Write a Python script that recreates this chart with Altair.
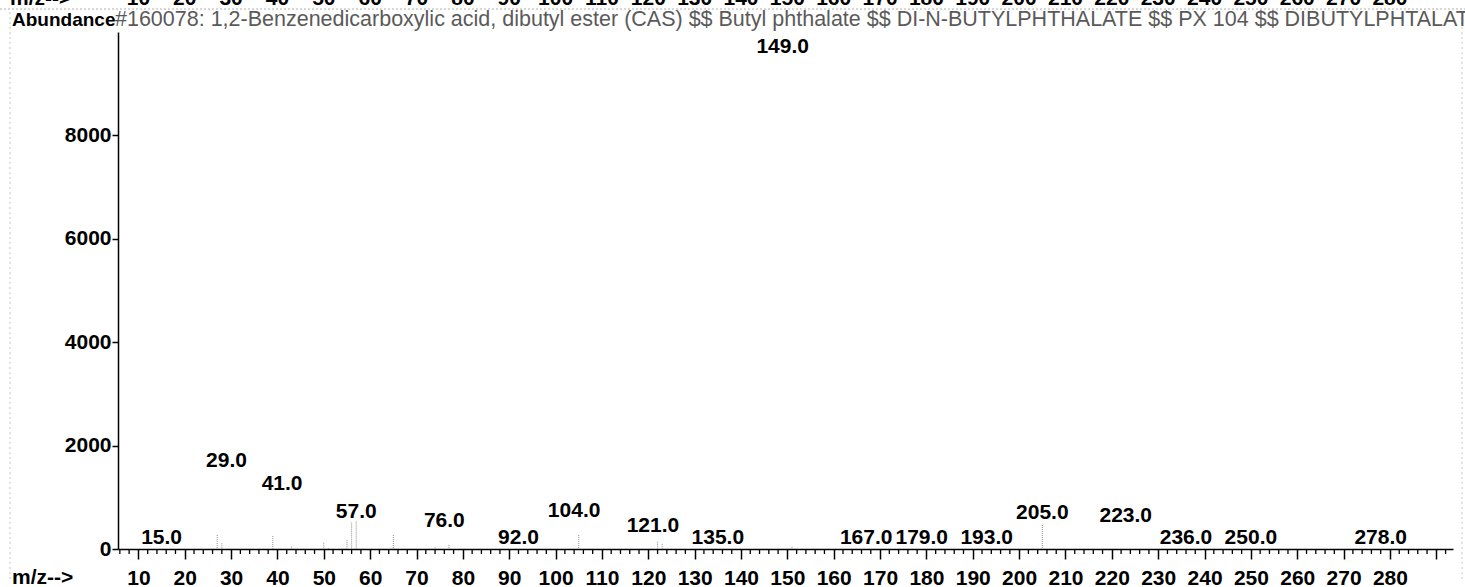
import altair as alt
import pandas as pd

# ---- data ----
# labelled peaks: m/z, abundance (position of the label) and label text
label_mz = [15, 29, 41, 57, 76, 92, 104, 121, 135, 149, 167, 179, 193, 205, 223, 236, 250, 278]
label_abund = [20, 1507, 1063, 522, 348, 20, 541, 251, 20, 9507, 20, 10, 10, 502, 444, 10, 10, 20]
label_text = ["15.0", "29.0", "41.0", "57.0", "76.0", "92.0", "104.0", "121.0", "135.0",
              "149.0", "167.0", "179.0", "193.0", "205.0", "223.0", "236.0", "250.0", "278.0"]

# faint peak sticks that are visible in the scan
stick_mz = [27, 28, 39, 43, 50, 51, 55, 56, 57, 65, 74, 77, 105, 122, 123, 151, 205]
stick_abund = [270, 110, 250, 45, 120, 20, 170, 510, 530, 270, 30, 80, 270, 140, 100, 45, 464]

# axis ticks
x_major = [10, 20, 30, 40, 50, 60, 70, 80, 90, 100, 110, 120, 130, 140, 150, 160, 170,
           180, 190, 200, 210, 220, 230, 240, 250, 260, 270, 280, 290]
x_labels = [10, 20, 30, 40, 50, 60, 70, 80, 90, 100, 110, 120, 130, 140, 150, 160, 170,
            180, 190, 200, 210, 220, 230, 240, 250, 260, 270, 280]
x_minor = [v for v in range(6, 293, 2) if v % 10 != 0]
y_ticks = [0, 2000, 4000, 6000, 8000]

title_bold = "Abundance"
title_rest = ("#160078: 1,2-Benzenedicarboxylic acid, dibutyl ester (CAS) $$ Butyl phthalate "
              "$$ DI-N-BUTYLPHTHALATE $$ PX 104 $$ DIBUTYLPHTALATE")
axis_name = "m/z-->"

FONT = "Liberation Sans"
FS = 21
W, H = 1335, 517

labels_df = pd.DataFrame({"mz": label_mz, "abund": label_abund, "label": label_text})
sticks_df = pd.DataFrame({"mz": stick_mz, "abund": stick_abund, "base": [0] * len(stick_mz)})
minor_df = pd.DataFrame({"mz": x_minor})
top_df = pd.DataFrame({"mz": x_labels, "label": [str(v) for v in x_labels]})

xscale = alt.Scale(domain=[5.6, 293.6], nice=False, zero=False)
yscale = alt.Scale(domain=[0, 10000], nice=False)

xaxis = alt.Axis(values=x_major, title=None, grid=False, tickSize=10, tickWidth=1.5,
                 tickColor="black", domainColor="black", domainWidth=1.5,
                 labelFont=FONT, labelFontSize=FS, labelFontWeight="bold", labelColor="black",
                 labelBaseline="alphabetic", labelPadding=25, labelFlush=False,
                 labelOverlap=False,
                 labelExpr="datum.value > 285 ? '' : datum.label")
yaxis = alt.Axis(values=y_ticks, title=None, grid=False, tickSize=6, tickWidth=1.5,
                 tickColor="black", domainColor="black", domainWidth=1.5,
                 labelFont=FONT, labelFontSize=FS, labelFontWeight="bold", labelColor="black",
                 labelPadding=1, format="d", labelFlush=False)

sticks = alt.Chart(sticks_df).mark_rule(color="#8c8c8c", strokeWidth=1, strokeDash=[1, 1]).encode(
    x=alt.X("mz:Q", scale=xscale, axis=xaxis),
    y=alt.Y("abund:Q", scale=yscale, axis=yaxis),
    y2="base:Q",
)

labels = alt.Chart(labels_df).mark_text(font=FONT, fontSize=FS, fontWeight="bold", color="black",
                                         baseline="alphabetic", dy=-4).encode(
    x=alt.X("mz:Q", scale=xscale),
    y=alt.Y("abund:Q", scale=yscale),
    text="label:N",
)

minor = alt.Chart(minor_df).mark_rule(color="black", strokeWidth=1.3).encode(
    x=alt.X("mz:Q", scale=xscale),
    y=alt.value(H),
    y2=alt.value(H + 5),
)

top_row = alt.Chart(top_df).mark_text(font=FONT, fontSize=FS, fontWeight="bold", color="black",
                                       baseline="alphabetic").encode(
    x=alt.X("mz:Q", scale=xscale),
    y=alt.value(-27),
    text="label:N",
)

text_df = pd.DataFrame({
    "t": [axis_name, axis_name, title_bold, title_rest],
    "kind": ["top", "bottom", "bold", "rest"],
})

top_name = alt.Chart(text_df).transform_filter("datum.kind == 'top'").mark_text(
    font=FONT, fontSize=FS, fontWeight="bold", color="black", align="left",
    baseline="alphabetic").encode(x=alt.value(-108), y=alt.value(-27), text="t:N")

bottom_name = alt.Chart(text_df).transform_filter("datum.kind == 'bottom'").mark_text(
    font=FONT, fontSize=FS, fontWeight="bold", color="black", align="left",
    baseline="alphabetic").encode(x=alt.value(-106), y=alt.value(552), text="t:N")

title_b = alt.Chart(text_df).transform_filter("datum.kind == 'bold'").mark_text(
    font=FONT, fontSize=19, fontWeight="bold", color="black", align="left",
    baseline="alphabetic").encode(x=alt.value(-106), y=alt.value(-6), text="t:N")

title_r = alt.Chart(text_df).transform_filter("datum.kind == 'rest'").mark_text(
    font=FONT, fontSize=21.5, color="#5a5a5a", align="left",
    baseline="alphabetic").encode(x=alt.value(-3), y=alt.value(-6), text="t:N")

# faint scan frame lines
frame_top = alt.Chart(text_df).transform_filter("datum.kind == 'top'").mark_rule(
    color="#b0b0b0", strokeWidth=1, strokeDash=[2, 2]).encode(
    x=alt.value(-118), x2=alt.value(W + 12), y=alt.value(-23))
frame_left = alt.Chart(text_df).transform_filter("datum.kind == 'top'").mark_rule(
    color="#c8c8c8", strokeWidth=1, strokeDash=[2, 3]).encode(
    x=alt.value(-108), y=alt.value(-20), y2=alt.value(H + 30))
frame_right = alt.Chart(text_df).transform_filter("datum.kind == 'top'").mark_rule(
    color="#c8c8c8", strokeWidth=1, strokeDash=[2, 3]).encode(
    x=alt.value(W + 9), y=alt.value(-20), y2=alt.value(H + 30))

chart = alt.layer(
    frame_top, frame_left, frame_right,
    sticks, minor, labels, top_row, top_name, bottom_name, title_b, title_r,
).properties(
    width=W, height=H,
    padding={"left": 118, "top": 32, "right": 12, "bottom": 38},
    autosize=alt.AutoSizeParams(type="none"),
    background="white",
).configure_view(stroke=None)

chart.save("out.html", embed_options={"renderer": "svg", "actions": False})
